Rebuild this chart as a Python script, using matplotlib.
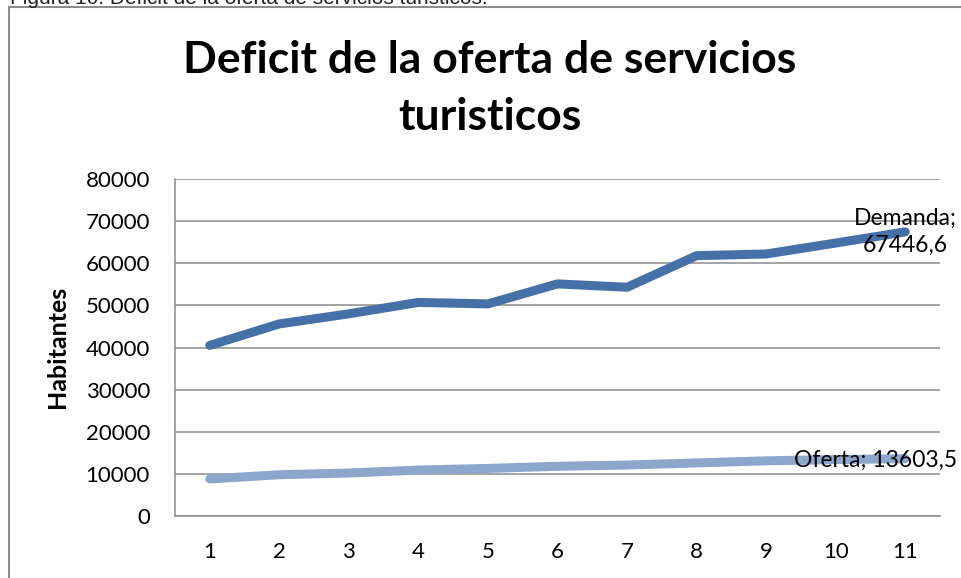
import matplotlib
matplotlib.use("Agg")
import matplotlib.pyplot as plt
from matplotlib.lines import Line2D

# values
periodos = [1, 2, 3, 4, 5, 6, 7, 8, 9, 10, 11]
demanda = [40500, 45600, 48000, 50700, 50350, 55100, 54300, 61800, 62200, 64800, 67446.6]
oferta = [8800, 9800, 10200, 10900, 11300, 11800, 12100, 12600, 13100, 13400, 13603.5]
yticks = [0, 10000, 20000, 30000, 40000, 50000, 60000, 70000, 80000]

color_demanda = "#4570A8"
color_oferta = "#8CA6CC"
grid_color = "#8C8C8C"

plt.rcParams["font.family"] = ["Lato", "DejaVu Sans"]

fig = plt.figure(figsize=(9.62, 5.78), dpi=100)
W, H = 962, 578

# caption cut off at the top of the page
fig.text(10 / W, 1 - 4 / H, "Figura 10. Deficit de la oferta de servicios turisticos.",
         family="Liberation Sans", fontsize=15, color="#222222", va="baseline", ha="left")

# frame of the chart (runs off the right and bottom edges)
fig.add_artist(Line2D([9 / W, 1.0], [1 - 7 / H, 1 - 7 / H], color="#8C8C8C", lw=1.5))
fig.add_artist(Line2D([9 / W, 9 / W], [0.0, 1 - 7 / H], color="#8C8C8C", lw=1.5))

ax = fig.add_axes([175 / W, 1 - 516 / H, (940 - 175) / W, (516 - 179) / H])

ax.plot(periodos, demanda, color=color_demanda, lw=6.5, solid_capstyle="round", solid_joinstyle="round", zorder=3)
ax.plot(periodos, oferta, color=color_oferta, lw=6.5, solid_capstyle="round", solid_joinstyle="round", zorder=3)

ax.set_xlim(0.5, 11.5)
ax.set_ylim(0, 80000)
ax.set_xticks(periodos)
ax.set_yticks(yticks)
ax.set_yticklabels([str(v) for v in yticks])
ax.tick_params(axis="both", length=0, labelsize=16, colors="black")
ax.tick_params(axis="y", pad=18)
ax.tick_params(axis="x", pad=19)

ax.grid(axis="y", color=grid_color, lw=1.1)
ax.set_axisbelow(True)
for s in ["top", "right"]:
    ax.spines[s].set_visible(False)
for s in ["left", "bottom"]:
    ax.spines[s].set_color(grid_color)
    ax.spines[s].set_linewidth(1.1)

ax.annotate("Demanda;\n67446,6", (periodos[-1], demanda[-1]), ha="center", va="center",
            fontsize=16.5, linespacing=1.3, zorder=4)
ax.annotate("Oferta; 13603,5", (periodos[-1], oferta[-1]), xytext=(-30, -2),
            textcoords="offset pixels", ha="center", va="center", fontsize=16.5, zorder=4)

fig.text(490 / W, 1 - 73 / H, "Deficit de la oferta de servicios",
         ha="center", va="baseline", fontsize=32, fontweight="bold")
fig.text(490 / W, 1 - 130 / H, "turisticos",
         ha="center", va="baseline", fontsize=32, fontweight="bold")

fig.text(58 / W, 1 - 347 / H, "Habitantes", rotation=90, ha="center", va="center",
         fontsize=18, fontweight="bold")

fig.savefig("out.png", dpi=100)
